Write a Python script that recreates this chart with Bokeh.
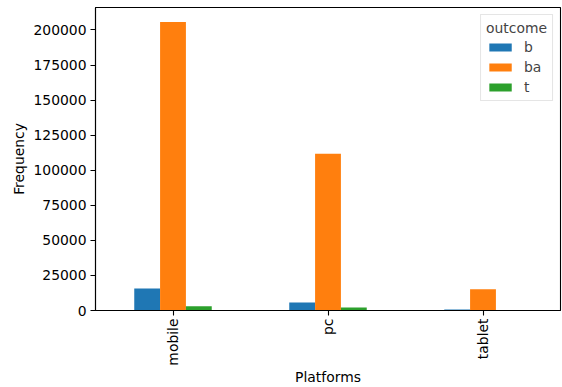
import math
from bokeh.plotting import figure
from bokeh.models import ColumnDataSource, Range1d, SingleIntervalTicker, BasicTickFormatter
from bokeh.transform import dodge
from bokeh.embed import file_html
from bokeh.resources import INLINE

platforms = ["mobile", "pc", "tablet"]
b_vals = [15600, 5700, 700]
ba_vals = [205700, 111800, 15100]
t_vals = [3000, 2200, 100]
series = ["b", "ba", "t"]
colors = ["#1f77b4", "#ff7f0e", "#2ca02c"]

source = ColumnDataSource(dict(platform=platforms, b=b_vals, ba=ba_vals, t=t_vals))

FONT = "DejaVu Sans"
FS = "13.9px"

p = figure(x_range=platforms, y_range=Range1d(0, 216000), width=562, height=387,
           output_backend="svg", toolbar_location=None,
           min_border_left=95, min_border_right=2, min_border_top=7, min_border_bottom=77)

w = 1.0 / 6
offsets = [-w, 0.0, w]
for name, col, off in zip(series, colors, offsets):
    p.vbar(x=dodge("platform", off, range=p.x_range), top=name, width=w, source=source,
           fill_color=col, line_color=None, legend_label=name)

p.xgrid.grid_line_color = None
p.ygrid.grid_line_color = None
p.outline_line_color = "black"
p.outline_line_width = 1.1
p.background_fill_color = None
p.border_fill_color = None

p.yaxis.ticker = SingleIntervalTicker(interval=25000)
p.yaxis.formatter = BasicTickFormatter(use_scientific=False)
for ax in (p.xaxis[0], p.yaxis[0]):
    ax.axis_line_color = "black"
    ax.axis_line_width = 1.1
    ax.major_tick_line_color = "black"
    ax.major_tick_line_width = 1.1
    ax.major_tick_out = 5
    ax.major_tick_in = 0
    ax.minor_tick_line_color = None
    ax.major_label_text_font = FONT
    ax.major_label_text_font_size = FS
    ax.major_label_text_color = "black"
    ax.axis_label_text_font = FONT
    ax.axis_label_text_font_size = FS
    ax.axis_label_text_font_style = "normal"
    ax.axis_label_text_color = "black"

p.xaxis.axis_label = "Platforms"
p.yaxis.axis_label = "Frequency"
p.xaxis.major_label_orientation = math.pi / 2
p.xaxis.major_label_standoff = 3
p.xaxis.axis_label_standoff = 0
p.yaxis.major_label_standoff = 4
p.yaxis.axis_label_standoff = 3

lg = p.legend[0]
lg.title = "outcome"
lg.title_text_font = FONT
lg.title_text_font_size = FS
lg.title_text_font_style = "normal"
lg.label_text_font = FONT
lg.label_text_font_size = FS
lg.location = "top_right"
lg.margin = 7
lg.padding = 5
lg.spacing = 4
lg.glyph_width = 28
lg.glyph_height = 10
lg.label_height = 14
lg.label_standoff = 10
lg.title_standoff = 3
lg.border_line_color = "#cccccc"
lg.border_line_width = 1
lg.background_fill_alpha = 0.8

open("out.html", "w").write(file_html(p, INLINE))
